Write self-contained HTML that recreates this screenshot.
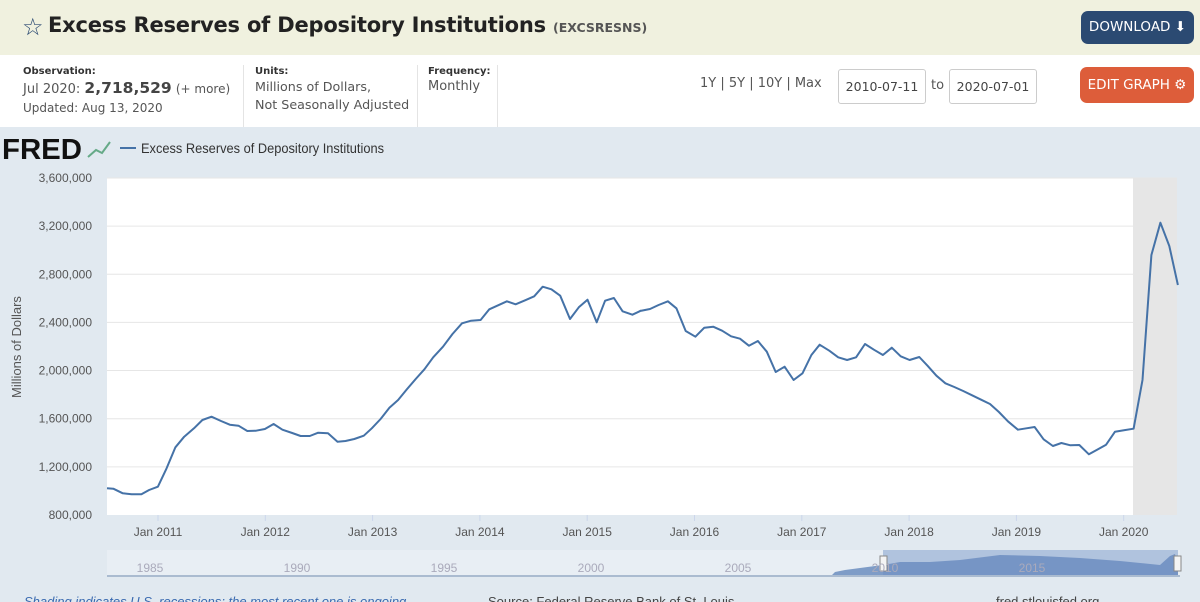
<!DOCTYPE html>
<html><head><meta charset="utf-8"><style>
body{margin:0;width:1200px;height:602px;overflow:hidden;font-family:"DejaVu Sans","Liberation Sans",sans-serif;background:#e1e9f0;position:relative}
.hd{position:absolute;left:0;top:0;width:1200px;height:55px;background:#f0f1df}
.t{position:absolute;left:48px;top:13px;font-size:21px;letter-spacing:-0.2px;font-weight:bold;color:#222}
.t small{font-size:12.5px;color:#555;letter-spacing:0}
.dl{position:absolute;left:1081px;top:11px;width:113px;height:33px;background:#2b4a72;border-radius:7px;color:#fff;font-size:13.5px;line-height:33px;text-align:center}
.info{position:absolute;left:0;top:55px;width:1200px;height:72px;background:#fff}
.lab{position:absolute;font-size:10px;font-weight:bold;color:#333}
.val{position:absolute;font-size:13px;color:#555;line-height:18px}
.sep{position:absolute;top:65px;width:1px;height:62px;background:#e4e4e4}
.box{position:absolute;top:69px;width:86px;height:33px;border:1px solid #ccc;border-radius:3px;font-size:12.5px;color:#444;line-height:33px;text-align:center;background:#fff}
.eg{position:absolute;left:1080px;top:67px;width:114px;height:36px;background:#dd5d3a;border-radius:7px;color:#fff;font-size:13.5px;line-height:36px;text-align:center}
</style></head><body>
<div class="hd"><div style="position:absolute;left:22px;top:13px;font-size:24px;color:#2b4a72">☆</div>
<div class="t">Excess Reserves of Depository Institutions <small>(EXCSRESNS)</small></div>
<div class="dl">DOWNLOAD ⬇</div></div>
<div class="info"></div>
<div class="lab" style="left:23px;top:66px">Observation:</div>
<div class="val" style="left:23px;top:79px">Jul 2020: <b style="font-size:15.5px;color:#444">2,718,529</b> <span style="font-size:12px">(+ more)</span></div>
<div class="val" style="left:23px;top:99px;font-size:12px">Updated: Aug 13, 2020</div>
<div class="sep" style="left:243px"></div>
<div class="lab" style="left:255px;top:66px">Units:</div>
<div class="val" style="left:255px;top:78px;font-size:12.7px">Millions of Dollars,<br>Not Seasonally Adjusted</div>
<div class="sep" style="left:417px"></div>
<div class="lab" style="left:428px;top:66px">Frequency:</div>
<div class="val" style="left:428px;top:78px">Monthly</div>
<div class="sep" style="left:497px"></div>
<div class="val" style="left:700px;top:75px">1Y | 5Y | 10Y | Max</div>
<div class="box" style="left:838px">2010-07-11</div>
<div class="val" style="left:931px;top:77px">to</div>
<div class="box" style="left:949px">2020-07-01</div>
<div class="eg">EDIT GRAPH ⚙</div>
<svg style="position:absolute;left:0;top:0" width="1200" height="602" font-family="Liberation Sans, sans-serif">
<text x="2" y="159" font-size="29" font-weight="bold" fill="#111" font-family="Liberation Sans" textLength="80" lengthAdjust="spacingAndGlyphs">FRED</text>
<polyline points="88,157 96,150 102,153 110,142" stroke="#6a8" fill="none" stroke-width="2"/>
<line x1="120" y1="148" x2="136" y2="148" stroke="#4572a7" stroke-width="2"/>
<text x="141" y="153" font-size="14" fill="#333" textLength="243" lengthAdjust="spacingAndGlyphs">Excess Reserves of Depository Institutions</text>
<rect x="107" y="178" width="1070" height="337" fill="#fff"/>
<rect x="1133" y="178" width="44" height="337" fill="#e6e6e6"/>
<g stroke="#e6e6e6" stroke-width="1" id="grid"></g>
<g font-size="12" fill="#555" text-anchor="end" id="yl"></g>
<text transform="translate(21,347) rotate(-90)" font-size="13" fill="#555" text-anchor="middle">Millions of Dollars</text>
<g font-size="12" fill="#555" text-anchor="middle" id="xl"></g>
<polyline id="ln" fill="none" stroke="#4572a7" stroke-width="2" stroke-linejoin="round"/>
<rect x="107" y="550" width="1073" height="27" fill="#e8eef4"/>
<polygon points="830,577 835,572 845,570 860,568 875,566 883,565 900,562 930,562 960,560 1000,555 1040,556 1080,558 1120,561 1160,565 1170,556 1175,554 1178,566 1178,577" fill="#7e9cc7"/>
<rect x="883" y="550" width="295" height="27" fill="#6d8fc4" opacity="0.45"/>
<line x1="107" y1="576" x2="1180" y2="576" stroke="#aabbd0" stroke-width="2"/>
<rect x="880" y="556" width="7" height="15" fill="#f4f4f4" stroke="#888"/>
<rect x="1174" y="556" width="7" height="15" fill="#f4f4f4" stroke="#888"/>
<g font-size="12" fill="#aab" text-anchor="middle">
<text x="150" y="572">1985</text><text x="297" y="572">1990</text><text x="444" y="572">1995</text><text x="591" y="572">2000</text><text x="738" y="572">2005</text><text x="885" y="572">2010</text><text x="1032" y="572">2015</text></g>
<g font-size="13" font-style="italic" fill="#3a6ab0"><text x="24" y="606">Shading indicates U.S. recessions; the most recent one is ongoing.</text></g>
<text x="488" y="606" font-size="13" fill="#444">Source: Federal Reserve Bank of St. Louis</text>
<text x="996" y="606" font-size="13" fill="#444">fred.stlouisfed.org</text>
</svg>
<script>
var ns="http://www.w3.org/2000/svg";
var g=document.getElementById('grid'),yl=document.getElementById('yl'),xl=document.getElementById('xl');
var labs=["3,600,000","3,200,000","2,800,000","2,400,000","2,000,000","1,600,000","1,200,000","800,000"];
for(var i=0;i<8;i++){var y=178+i*48.14;
if(i<7){var l=document.createElementNS(ns,'line');l.setAttribute('x1',107);l.setAttribute('x2',1177);l.setAttribute('y1',y);l.setAttribute('y2',y);g.appendChild(l);}
var t=document.createElementNS(ns,'text');t.setAttribute('x',92);t.setAttribute('y',y+4);t.textContent=labs[i];yl.appendChild(t);}
for(var k=0;k<10;k++){var x=158+k*107.3;var t=document.createElementNS(ns,'text');t.setAttribute('x',x);t.setAttribute('y',536);t.textContent='Jan '+(2011+k);xl.appendChild(t);
var l=document.createElementNS(ns,'line');l.setAttribute('x1',x);l.setAttribute('x2',x);l.setAttribute('y1',515);l.setAttribute('y2',521);l.setAttribute('stroke','#ccd6eb');xl.appendChild(l);}
var a=[20,655,38,656,65,670,90,673,118,673,140,660,165,650,190,595,215,532,240,500,268,475,292,450,318,440,345,453,370,464,395,467,420,483,445,482,470,477,495,462,520,479,548,489,572,498,598,498,622,488,650,490,677,515,700,513,725,507,752,497,775,475,800,447,825,413,850,390,875,358,900,327,925,298,950,262,978,230,1005,192,1032,160,1058,152,1085,150,1110,118,1135,106,1160,94,1185,103,1212,91,1238,79,1262,50,1287,58,1312,77,1340,147,1365,112,1390,89,1416,157,1440,92,1465,84,1490,124,1518,134,1542,122];
var b=[0,333,28,327,52,315,78,304,102,325,128,393,155,410,180,383,205,380,230,392,255,409,280,416,305,437,330,423,355,455,380,516,405,500,430,540,455,520,480,465,503,434,530,452,555,472,580,480,605,472,630,432,655,449,680,465,705,443,730,469,755,480,782,471,805,497,830,527,855,550,880,561,905,573,930,586,955,599,980,612,1005,636,1030,664,1058,689,1082,685,1105,681,1130,718,1156,738,1180,729,1205,736,1230,735,1257,763,1280,749,1305,734,1330,695,1355,691,1382,686,1407,540,1432,165,1457,68,1482,138,1506,255];
var p=[];
for(var i=0;i<a.length;i+=2)p.push((100+a[i]/2.851).toFixed(1)+','+(270+a[i+1]/3).toFixed(1));
for(var i=0;i<b.length;i+=2)p.push((640+b[i]/2.8).toFixed(1)+','+(200+b[i+1]/3).toFixed(1));
document.getElementById('ln').setAttribute('points',p.join(' '));
</script>
</body></html>
